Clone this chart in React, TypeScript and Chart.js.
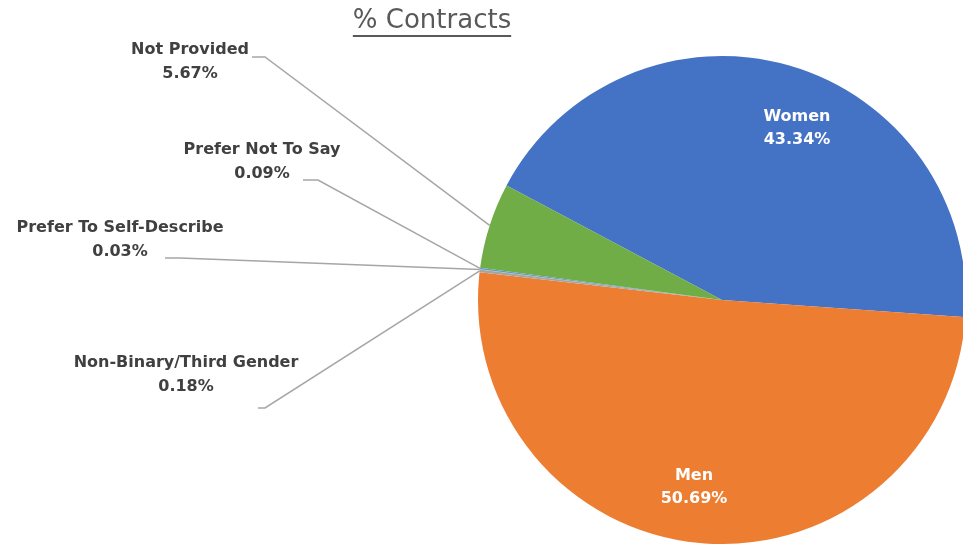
import React, { useEffect, useRef } from "react";
import { Chart, registerables } from "chart.js";

Chart.register(...registerables);

const categories = [
  "Women",
  "Men",
  "Non-Binary/Third Gender",
  "Prefer To Self-Describe",
  "Prefer Not To Say",
  "Not Provided",
];
const shares = [43.34, 50.69, 0.18, 0.03, 0.09, 5.67];
const shareLabels = ["43.34%", "50.69%", "0.18%", "0.03%", "0.09%", "5.67%"];
const colors = ["#4472C4", "#ED7D31", "#A5A5A5", "#FFC000", "#5B9BD5", "#70AD47"];
const titleText = "% Contracts";

const FONT = "'DejaVu Sans', sans-serif";

// label layout (positions only)
const insideLayout: Record<number, { x: number; y: number }> = {
  0: { x: 797, y: 117 },
  1: { x: 694, y: 476 },
};
const outsideLayout: Record<number, { x: number; y: number; lx: number; ly: number; bx: number }> = {
  5: { x: 190, y: 50, lx: 252, ly: 57, bx: 265 },
  4: { x: 262, y: 150, lx: 303, ly: 180, bx: 318 },
  3: { x: 120, y: 228, lx: 165, ly: 258, bx: 180 },
  2: { x: 186, y: 363, lx: 258, ly: 408, bx: 265 },
};

const labelPlugin = {
  id: "pieLabels",
  afterDraw(chart: any) {
    const ctx = chart.ctx;
    const meta = chart.getDatasetMeta(0);
    ctx.save();
    // title
    ctx.font = `26px ${FONT}`;
    ctx.fillStyle = "#595959";
    ctx.textAlign = "center";
    ctx.textBaseline = "middle";
    const tx = 432;
    const ty = 21;
    ctx.fillText(titleText, tx, ty);
    const tw = ctx.measureText(titleText).width;
    ctx.fillRect(tx - tw / 2, 35, tw, 2);

    meta.data.forEach((arc: any, i: number) => {
      const p = arc.getProps(["x", "y", "startAngle", "endAngle", "outerRadius"], true);
      ctx.font = `bold 16px ${FONT}`;
      ctx.textAlign = "center";
      ctx.textBaseline = "middle";
      if (insideLayout[i]) {
        const L = insideLayout[i];
        ctx.fillStyle = "#FFFFFF";
        ctx.fillText(categories[i], L.x, L.y);
        ctx.fillText(shareLabels[i], L.x, L.y + 23);
      } else if (outsideLayout[i]) {
        const L = outsideLayout[i];
        ctx.fillStyle = "#404040";
        ctx.fillText(categories[i], L.x, L.y);
        ctx.fillText(shareLabels[i], L.x, L.y + 24);
        const mid = (p.startAngle + p.endAngle) / 2;
        const ex = p.x + Math.cos(mid) * p.outerRadius;
        const ey = p.y + Math.sin(mid) * p.outerRadius;
        ctx.strokeStyle = "#A6A6A6";
        ctx.lineWidth = 1.5;
        ctx.beginPath();
        ctx.moveTo(L.lx, L.ly);
        ctx.lineTo(L.bx, L.ly);
        ctx.lineTo(ex, ey);
        ctx.stroke();
      }
    });
    ctx.restore();
  },
};

export default function App() {
  const ref = useRef<HTMLCanvasElement | null>(null);
  useEffect(() => {
    if (!ref.current) return;
    const chart = new Chart(ref.current, {
      type: "pie",
      data: {
        labels: categories,
        datasets: [
          {
            data: shares,
            backgroundColor: colors,
            borderWidth: 0,
          },
        ],
      },
      options: {
        responsive: false,
        animation: false,
        rotation: 298,
        radius: 244,
        layout: { padding: { left: 481, right: 0, top: 56, bottom: 0 } },
        plugins: {
          legend: { display: false },
          title: { display: false },
          tooltip: { enabled: false },
        },
      },
      plugins: [labelPlugin],
    });
    return () => chart.destroy();
  }, []);
  return (
    <div style={{ position: "absolute", left: 0, top: 0, width: 963, height: 544, overflow: "hidden", background: "#fff" }}>
      <canvas ref={ref} width={963} height={544} style={{ display: "block" }} />
    </div>
  );
}
